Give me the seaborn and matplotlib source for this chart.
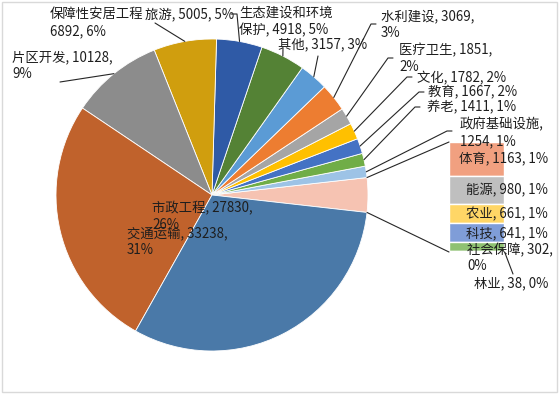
import matplotlib
matplotlib.use("Agg")
import matplotlib.pyplot as plt
from matplotlib.patches import Rectangle
import numpy as np
import seaborn as sns

# pie slices, in order from the combined slice going up (counterclockwise on screen)
pie_names = ["政府基础设施", "养老", "教育", "文化", "医疗卫生", "水利建设", "其他",
             "生态建设和环境保护", "旅游", "保障性安居工程", "片区开发", "市政工程", "交通运输"]
pie_values = [1254, 1411, 1667, 1782, 1851, 3069, 3157, 4918, 5005, 6892, 10128, 27830, 33238]
pie_pcts = ["1%", "1%", "2%", "2%", "2%", "3%", "3%", "5%", "5%", "6%", "9%", "26%", "31%"]
pie_colors = ["#9DC3E6", "#70AD47", "#4472C4", "#FFC000", "#A5A5A5", "#ED7D31", "#5B9BD5",
              "#548235", "#2F5AA6", "#D09E0E", "#8C8C8C", "#C0622C", "#4A79A8"]

# small categories pulled out into the stacked bar
bar_names = ["体育", "能源", "农业", "科技", "社会保障", "林业"]
bar_values = [1163, 980, 661, 641, 302, 38]
bar_pcts = ["1%", "1%", "1%", "1%", "0%", "0%"]
bar_colors = ["#F1A080", "#BFBFBF", "#FFD666", "#7F9DD8", "#8FC172", "#9DC3E6"]
other_color = "#F6C3B2"

# label layout: lines of text, x, y of first line centre, leader points from the label side
pie_labels = {
    "政府基础设施": (["{n},", "{v}, {p}"], 460, 124, [(452, 131), (447, 131)]),
    "养老": (["{n}, {v}, {p}"], 427, 107, [(420, 107), (415, 107)]),
    "教育": (["{n}, {v}, {p}"], 428, 92, [(424, 92), (419, 92)]),
    "文化": (["{n}, {v}, {p}"], 417, 78, [(412, 77), (407, 77)]),
    "医疗卫生": (["{n}, {v},", "{p}"], 399, 50, [(393, 58), (388, 58)]),
    "水利建设": (["{n}, {v},", "{p}"], 381, 16, [(376, 24), (371, 24)]),
    "其他": (["{n}, {v}, {p}"], 278, 44, [(318, 56)]),
    "生态建设和环境保护": (["生态建设和环境", "保护, {v}, {p}"], 239, 13, [(283, 48)]),
    "旅游": (["{n}, {v}, {p}"], 145, 14, [(231, 14), (237, 14)]),
    "保障性安居工程": (["{n}", "{v}, {p}"], 50, 14, [(155, 23)]),
    "片区开发": (["{n}, {v},", "{p}"], 12, 57, [(60, 82)]),
    "市政工程": (["{n}, {v},", "{p}"], 152, 208, []),
    "交通运输": (["{n}, {v},", "{p}"], 127, 233, []),
}

sns.set_theme(style="white")
plt.rcParams["font.family"] = ["Noto Sans CJK SC", "DejaVu Sans"]
fs = 9.6
tc = "#1E1E1E"
lc = "#262626"
pitch = 17

W, H = 559, 394
fig = plt.figure(figsize=(W / 100, H / 100), dpi=100)
fig.patch.set_facecolor("white")

# stacked bar of the small categories (added first so the main axes text sits on top)
bx0, bx1, by0, by1 = 449, 504, 142, 252
axb = fig.add_axes([bx0 / W, 1 - by1 / H, (bx1 - bx0) / W, (by1 - by0) / H])
other_total = sum(bar_values)
bottoms = np.concatenate([[0], np.cumsum(bar_values)[:-1]])
axb.bar([0] * len(bar_values), bar_values, bottom=bottoms, width=1, color=bar_colors)
axb.set_xlim(-0.5, 0.5)
axb.set_ylim(other_total, 0)
axb.axis("off")
axb.set_zorder(0)

ax = fig.add_axes([0, 0, 1, 1])
ax.set_zorder(1)
ax.patch.set_alpha(0)

cx, cy, R = 212, 195, 156
values = [other_total] + pie_values
half = 360 * other_total / sum(values) / 2
wedges, _ = ax.pie(values, colors=[other_color] + pie_colors, center=(cx, cy), radius=R,
                   startangle=half, counterclock=False,
                   wedgeprops=dict(edgecolor="white", linewidth=0.6))
ax.set_xlim(0, W)
ax.set_ylim(H, 0)
ax.set_aspect("equal")
ax.axis("off")


def rim(theta):
    t = np.deg2rad(theta)
    return cx + R * np.cos(t), cy + R * np.sin(t)


# pie labels + leader lines
for w, name, v, p in zip(wedges[1:], pie_names, pie_values, pie_pcts):
    lines, x, y, pts = pie_labels[name]
    for i, ln in enumerate(lines):
        ax.text(x, y + i * pitch, ln.format(n=name, v=v, p=p), fontsize=fs, color=tc,
                ha="left", va="center")
    if pts:
        end = rim((w.theta1 + w.theta2) / 2)
        xs = [q[0] for q in pts] + [end[0]]
        ys = [q[1] for q in pts] + [end[1]]
        ax.plot(xs, ys, color=lc, lw=0.8)

# connectors from the combined slice to the bar
top = rim(wedges[0].theta1)
bot = rim(wedges[0].theta2)
ax.plot([top[0], bx0], [top[1], by0], color=lc, lw=0.8)
ax.plot([bot[0], bx0], [bot[1], by1], color=lc, lw=0.8)

# bar labels
bar_pos = [(548, 159), (548, 190), (548, 214), (548, 233)]
for (x, y), n, v, p in zip(bar_pos, bar_names[:4], bar_values[:4], bar_pcts[:4]):
    ax.text(x, y, f"{n}, {v}, {p}", fontsize=fs, color=tc, ha="right", va="center")
ax.text(467, 250, f"{bar_names[4]}, {bar_values[4]},", fontsize=fs, color=tc, ha="left", va="center")
ax.text(467, 250 + 16, bar_pcts[4], fontsize=fs, color=tc, ha="left", va="center")
ax.text(548, 283, f"{bar_names[5]}, {bar_values[5]}, {bar_pcts[5]}", fontsize=fs, color=tc,
        ha="right", va="center")
ax.plot([505, 513], [253, 274], color=lc, lw=0.8)

fig.patches.append(Rectangle((2 / W, 2 / H), (W - 4) / W, (H - 4) / H, transform=fig.transFigure,
                             fill=False, edgecolor="#D9D9D9", lw=1))

fig.savefig("out.png", dpi=100)
